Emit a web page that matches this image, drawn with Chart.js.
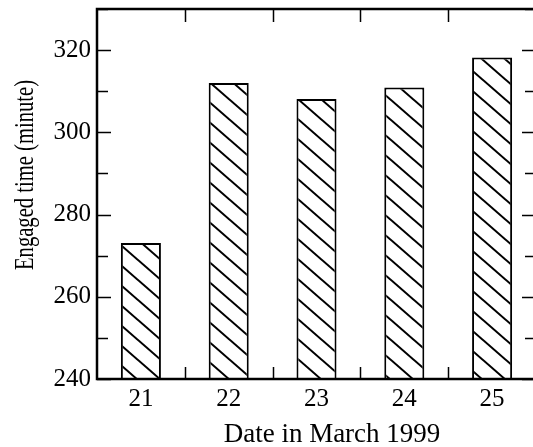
<!DOCTYPE html>
<html>
<head>
<meta charset="utf-8">
<script src="https://cdn.jsdelivr.net/npm/chart.js@4"></script>
<style>
  html, body { margin: 0; padding: 0; background: #fff; overflow: hidden; }
  #wrap { width: 536px; height: 447px; }
</style>
</head>
<body>
<div id="wrap"><canvas id="chart"></canvas></div>
<script>
// ── Data ──────────────────────────────────────────────
const dates = ['21', '22', '23', '24', '25'];
const engagedMinutes = [273.1, 312.0, 308.1, 310.9, 318.2];
const yMin = 240, yMax = 330, yStep = 10, yLabelEvery = 20;
const xTitle = 'Date in March 1999';
const yTitle = 'Engaged time (minute)';

const SERIF = "'Liberation Serif', 'Times New Roman', serif";

// diagonal hatch (\\\) used to fill the bars
function makeHatch(ctx) {
    const w = 23, h = 20;
    const c = document.createElement('canvas');
    c.width = w; c.height = h;
    const g = c.getContext('2d');
    g.fillStyle = '#fff';
    g.fillRect(0, 0, w, h);
    g.strokeStyle = '#000';
    g.lineWidth = 2;
    for (let k = -1; k <= 1; k++) {
        g.beginPath();
        g.moveTo(k * w - w, -h);
        g.lineTo(k * w + 2 * w, 2 * h);
        g.stroke();
    }
    return ctx.createPattern(c, 'repeat');
}

// frame + inward tick marks on all four sides
const frameTicks = {
    id: 'frameTicks',
    afterDraw(chart) {
        const { ctx, chartArea: a, scales } = chart;
        const ys = scales.y, xs = scales.x;
        ctx.save();
        ctx.strokeStyle = '#000';
        ctx.lineWidth = 1.5;
        ctx.beginPath();
        ys.ticks.forEach(t => {
            const py = Math.round(ys.getPixelForValue(t.value)) + 0.5;
            const len = t.value % yLabelEvery === 0 ? 14 : 11;
            ctx.moveTo(a.left, py);  ctx.lineTo(a.left + len, py);
            ctx.moveTo(a.right, py); ctx.lineTo(a.right - len, py);
        });
        for (let i = 1; i < dates.length; i++) {
            const px = Math.round((xs.getPixelForValue(i - 1) + xs.getPixelForValue(i)) / 2) + 0.5;
            ctx.moveTo(px, a.bottom); ctx.lineTo(px, a.bottom - 12);
            ctx.moveTo(px, a.top);    ctx.lineTo(px, a.top + 13);
        }
        ctx.stroke();
        ctx.lineWidth = 2.5;
        ctx.strokeRect(a.left, a.top, a.right - a.left, a.bottom - a.top);
        ctx.restore();
    }
};

// axis titles (placed like the original figure, slightly off-centre)
const axisTitles = {
    id: 'axisTitles',
    afterDraw(chart) {
        const { ctx } = chart;
        ctx.save();
        ctx.fillStyle = '#000';
        ctx.font = '27px ' + SERIF;
        ctx.textAlign = 'center';
        ctx.textBaseline = 'alphabetic';
        ctx.fillText(xTitle, 332, 442);
        ctx.translate(33, 175);
        ctx.rotate(-Math.PI / 2);
        ctx.fillText(yTitle, 0, 0, 190);
        ctx.restore();
    }
};

function noPad(s) {
    s.paddingTop = 0; s.paddingBottom = 0;
    s.paddingLeft = 0; s.paddingRight = 0;
}

const canvas = document.getElementById('chart');

new Chart(canvas, {
    type: 'bar',
    data: {
        labels: dates,
        datasets: [{
            data: engagedMinutes,
            backgroundColor: makeHatch(canvas.getContext('2d')),
            borderColor: '#000',
            borderWidth: 2,
            borderSkipped: false,
            barPercentage: 0.456,
            categoryPercentage: 1,
        }],
    },
    options: {
        responsive: true,
        maintainAspectRatio: false,
        animation: false,
        layout: { autoPadding: false, padding: { top: 9, right: 0, left: 0, bottom: 0 } },
        plugins: { legend: { display: false }, tooltip: { enabled: false } },
        scales: {
            x: {
                grid: { display: false, drawTicks: false },
                border: { display: false },
                ticks: { color: '#000', font: { family: SERIF, size: 25 }, padding: 5 },
                afterFit(s) { s.height = 68; noPad(s); },
            },
            y: {
                min: yMin,
                max: yMax,
                grid: { display: false, drawTicks: false },
                border: { display: false },
                ticks: {
                    stepSize: yStep,
                    autoSkip: false,
                    color: '#000',
                    font: { family: SERIF, size: 25 },
                    padding: 6,
                    callback: v => (v % yLabelEvery === 0 ? v : ''),
                },
                afterFit(s) { s.width = 97; noPad(s); },
            },
        },
    },
    plugins: [frameTicks, axisTitles],
});
</script>
</body>
</html>
